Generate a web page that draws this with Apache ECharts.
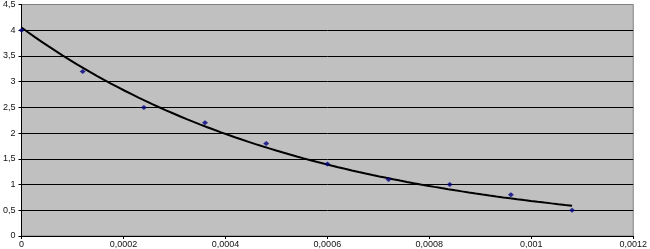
<!DOCTYPE html>
<html>
<head>
<meta charset="utf-8">
<script src="https://cdn.jsdelivr.net/npm/echarts@6/dist/echarts.min.js"></script>
<style>
html,body{margin:0;padding:0;background:#fff;}
#chart{width:650px;height:249px;}
</style>
</head>
<body>
<div id="chart"></div>
<script>
// Data
var xValues = [0, 0.00012, 0.00024, 0.00036, 0.00048, 0.0006, 0.00072, 0.00084, 0.00096, 0.00108];
var yValues = [4.0, 3.2, 2.5, 2.2, 1.8, 1.4, 1.1, 1.0, 0.8, 0.5];

// Exponential trendline (least-squares fit of ln(y) on x, as a spreadsheet trendline does)
function expFit(xs, ys) {
  var n = xs.length, mx = 0, my = 0;
  for (var i = 0; i < n; i++) { mx += xs[i]; my += Math.log(ys[i]); }
  mx /= n; my /= n;
  var sxy = 0, sxx = 0;
  for (var j = 0; j < n; j++) {
    sxy += (xs[j] - mx) * (Math.log(ys[j]) - my);
    sxx += (xs[j] - mx) * (xs[j] - mx);
  }
  var b = sxy / sxx;
  return { a: Math.exp(my - b * mx), b: b };
}
var fit = expFit(xValues, yValues);
var trend = [];
var steps = 80;
var x0 = xValues[0], x1 = xValues[xValues.length - 1];
for (var k = 0; k <= steps; k++) {
  var xv = x0 + (x1 - x0) * k / steps;
  trend.push([xv, fit.a * Math.exp(fit.b * xv)]);
}
var points = xValues.map(function (x, i) { return [x, yValues[i]]; });

function fmt(v) { return String(+v.toFixed(6)).replace('.', ','); }

var chart = echarts.init(document.getElementById('chart'));
chart.setOption({
  animation: false,
  backgroundColor: '#ffffff',
  grid: {
    left: 20, right: 15, top: 2, bottom: 13,
    show: true, backgroundColor: '#c0c0c0', borderColor: '#808080', borderWidth: 1
  },
  xAxis: {
    type: 'value', min: 0, max: 0.0012, interval: 0.0002,
    axisLine: { show: true, lineStyle: { color: '#000', width: 1 } },
    axisTick: { show: true, length: 3, lineStyle: { color: '#000' } },
    axisLabel: { formatter: fmt, fontFamily: 'Liberation Sans', fontSize: 9, color: '#111', margin: 4 },
    splitLine: { show: false }
  },
  yAxis: {
    type: 'value', min: 0, max: 4.5, interval: 0.5,
    axisLine: { show: true, lineStyle: { color: '#000', width: 1 } },
    axisTick: { show: true, length: 3, lineStyle: { color: '#000' } },
    axisLabel: { formatter: fmt, fontFamily: 'Liberation Sans', fontSize: 9, color: '#111', margin: 6 },
    splitLine: { show: true, lineStyle: { color: ['#000','#000','#000','#000','#000','#000','#000','#000','#000','#808080'], width: 1 } }
  },
  series: [
    {
      type: 'line', data: trend, showSymbol: false, symbol: 'none',
      lineStyle: { color: '#000', width: 2 }, z: 2
    },
    {
      type: 'scatter', data: points, symbol: 'diamond', symbolSize: [6, 5],
      itemStyle: { color: '#000080' }, z: 3
    }
  ]
});
</script>
</body>
</html>
